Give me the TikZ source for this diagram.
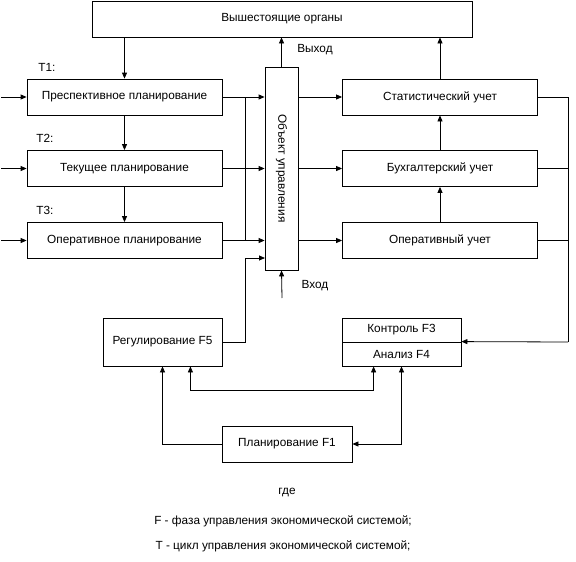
\documentclass[tikz,border=0pt]{standalone}
\usepackage{fontspec}
\setmainfont{Liberation Sans}
\usepackage{tikz}
\usetikzlibrary{arrows.meta,positioning}

\begin{document}
\begin{tikzpicture}[
  x=1pt, y=-1pt,
  font=\fontsize{11.8}{13}\selectfont,
  line width=0.8pt,
  box/.style={rectangle, draw, minimum width=195pt, minimum height=36pt, align=center, inner sep=1pt},
  smallbox/.style={rectangle, draw, minimum width=119pt, minimum height=48pt, align=center, inner sep=1pt},
  halfbox/.style={rectangle, draw, minimum width=119pt, minimum height=24pt, align=center, inner sep=1pt},
  lbl/.style={inner sep=0pt},
  arr/.style={-{Triangle[length=6pt, width=5pt]}},
  darr/.style={{Triangle[length=6pt, width=5pt]}-{Triangle[length=6pt, width=5pt]}}
]
\useasboundingbox (0,0) rectangle (576,562);

% top and object
\node[box, minimum width=380pt] (top) at (282,19) {Вышестоящие органы};
\node[rectangle, draw, minimum width=33pt, minimum height=203pt, inner sep=1pt] (obj) at (281.5,168.5) {\rotatebox{-90}{Объект управления}};

% planning cycles
\node[box] (pp) at (124.5,97) {Преспективное планирование};
\node[box] (tek) at (124.5,168.5) {Текущее планирование};
\node[box] (opl) at (124.5,240.5) {Оперативное планирование};
\node[lbl] (t1) at (47,67) {T1:};
\node[lbl] (t2) at (45,138) {T2:};
\node[lbl] (t3) at (45,210) {T3:};

% accounting
\node[box] (stat) at (440,97) {Статистический учет};
\node[box] (buh) at (440,168.5) {Бухгалтерский учет};
\node[box] (oper) at (440,240.5) {Оперативный учет};

% phases
\node[smallbox] (reg) at (162.5,342) {Регулирование F5};
\node[halfbox] (ctrl) at (401.5,330) {Контроль F3};
\node[halfbox] (anl) at (401.5,354) {Анализ F4};
\node[rectangle, draw, minimum width=130pt, minimum height=36pt] (plf) at (287,444) {Планирование F1};

\node[lbl] (vyh) at (315,50) {Выход};
\node[lbl] (vh) at (315,286) {Вход};

\coordinate (lm) at (1,0);
\coordinate (lbus) at (245,0);
\coordinate (rbus) at (568,342);
\coordinate (rin) at (265,258);
\coordinate (vin) at (282,298);

% left inputs
\foreach \n in {pp,tek,opl}
  \draw[arr] (\n.west -| lm) -- (\n.west);

\draw[arr] (top.south -| pp.north) -- (pp.north);
\draw[arr] (pp) -- (tek);
\draw[arr] (tek) -- (opl);

% into the object
\foreach \n in {pp,tek,opl}
  \draw[arr] (\n.east) -- (\n.east -| obj.west);
\draw (pp.east -| lbus) -- (opl.east -| lbus);
\draw[arr] (reg.east) -- (reg.east -| lbus) |- (rin);
\draw[arr] (vin) -- (obj.south);
\draw[arr] (obj.north) -- (top.south -| obj.north);

% out of the object
\foreach \n in {stat,buh,oper}
  \draw[arr] (\n.west -| obj.east) -- (\n.west);
\draw[arr] (oper) -- (buh);
\draw[arr] (buh) -- (stat);
\draw[arr] (stat.north) -- (top.south -| stat.north);

\foreach \n in {stat,buh,oper}
  \draw (\n.east) -- (\n.east -| rbus);
\draw (stat.east -| rbus) -- (rbus);
\draw[arr] (rbus) -- (anl.north east);

% bottom links
\draw[arr] (plf.west) -| (reg.south);
\draw[darr] ([xshift=-32pt]reg.south east) -- ++(0,24) -| ([xshift=32pt]anl.south west);
\draw[darr] (anl.south) |- (plf.east);

% legend
\node[lbl] (gde) at (287,492) {где};
\node[lbl] (lf) at (283,521) {F - фаза управления экономической системой;};
\node[lbl] (lt) at (283,546) {T - цикл управления экономической системой;};
\end{tikzpicture}
\end{document}
